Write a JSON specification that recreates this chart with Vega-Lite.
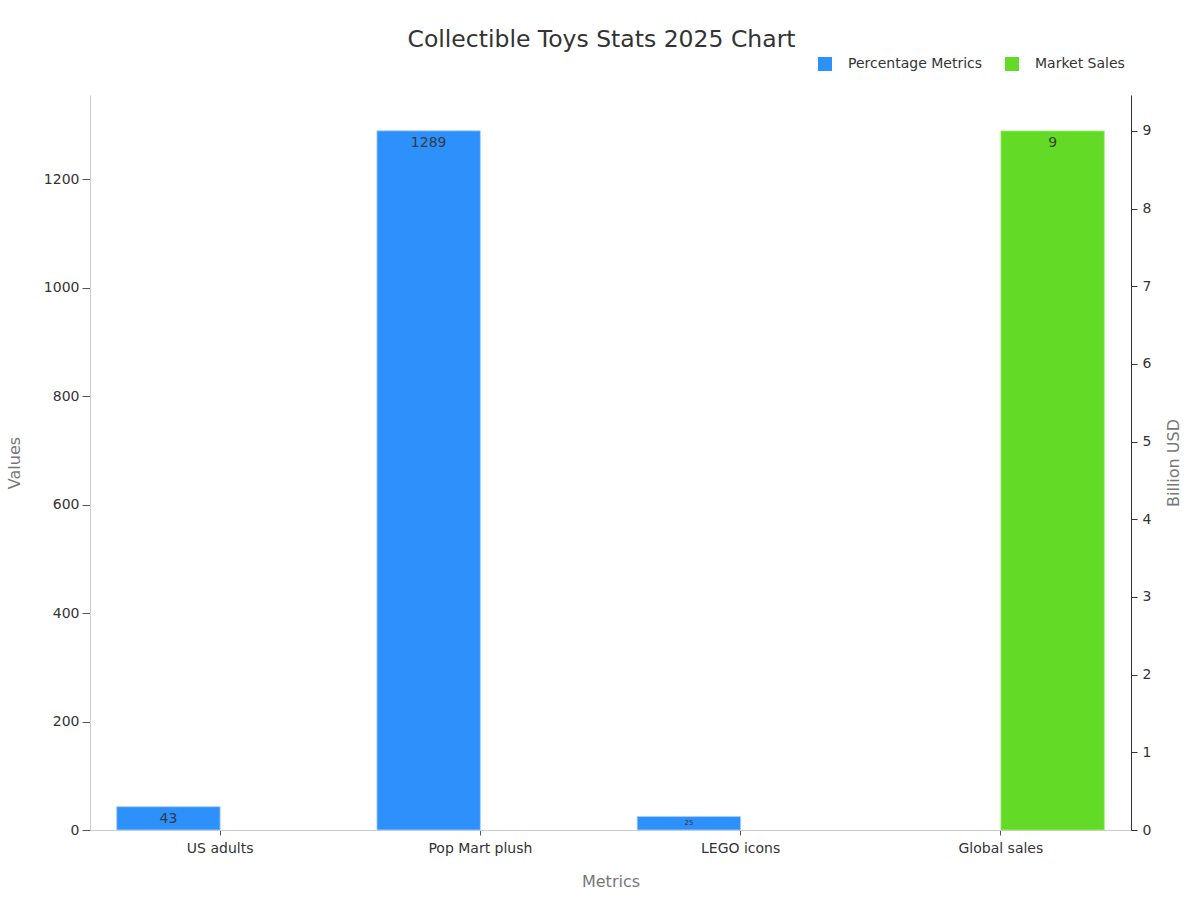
{
"$schema":"https://vega.github.io/schema/vega-lite/v6.json",
"width":1041,"height":735,
"autosize":{"type":"none"},
"padding":{"left":90,"top":95,"right":69,"bottom":70},
"background":"white",
"title":{"text":"Collectible Toys Stats 2025 Chart","anchor":"middle","frame":"group","fontSize":23.5,"fontWeight":"normal","font":"DejaVu Sans","color":"#333333","dx":-9,"offset":6},
"config":{"font":"DejaVu Sans","view":{"stroke":null}},
"data":{"values":[
{"metric":"US adults","series":"Percentage Metrics","value":43},
{"metric":"Pop Mart plush","series":"Percentage Metrics","value":1289},
{"metric":"LEGO icons","series":"Percentage Metrics","value":25},
{"metric":"Global sales","series":"Market Sales","value":9}
]},
"encoding":{
"x":{"field":"metric","type":"nominal","sort":["US adults","Pop Mart plush","LEGO icons","Global sales"],
"scale":{"paddingInner":0.205,"paddingOuter":0.1025},
"axis":{"title":"Metrics","titleFontSize":16,"titleFontWeight":"normal","titleColor":"#777777","titlePadding":18,"labelAngle":0,"labelFontSize":14,"labelColor":"#333333","labelPadding":6,"domainColor":"#cccccc","tickColor":"#555555","tickSize":5}},
"xOffset":{"field":"series","type":"nominal","sort":["Percentage Metrics","Market Sales"],"scale":{"domain":["Percentage Metrics","Market Sales"]}}
},
"layer":[
{"transform":[{"filter":"datum.series === 'Percentage Metrics'"}],
"encoding":{"y":{"field":"value","type":"quantitative","scale":{"domain":[0,1355],"nice":false,"zero":true},
"axis":{"orient":"left","title":"Values","format":"d","titleFontSize":16,"titleFontWeight":"normal","titleColor":"#777777","titlePadding":21,"labelFontSize":14,"labelColor":"#333333","labelPadding":3,"values":[0,200,400,600,800,1000,1200],"grid":false,"domainColor":"#cccccc","tickColor":"#555555","tickSize":8}}},
"layer":[
{"mark":{"type":"bar","stroke":"#a9d3fb","strokeWidth":0.8},
"encoding":{"color":{"field":"series","type":"nominal","scale":{"domain":["Percentage Metrics","Market Sales"],"range":["#2e90fa","#63da25"]},
"legend":{"title":null,"orient":"none","direction":"horizontal","legendX":728,"legendY":-38,"symbolType":"square","symbolSize":196,"symbolStrokeWidth":0,"labelFontSize":14,"labelColor":"#333333","columnPadding":22,"labelOffset":16,"padding":0}}}},
{"transform":[{"filter":"datum.metric !== 'LEGO icons'"}],"mark":{"type":"text","baseline":"middle","dy":12,"fontSize":14,"color":"#333333","opacity":0.9},"encoding":{"text":{"field":"value","type":"quantitative","format":"d"}}},
{"transform":[{"filter":"datum.metric === 'LEGO icons'"}],"mark":{"type":"text","baseline":"middle","dy":7,"fontSize":7,"color":"#333333"},"encoding":{"text":{"field":"value","type":"quantitative","format":"d"}}}
]},
{"transform":[{"filter":"datum.series === 'Market Sales'"}],
"encoding":{"y":{"field":"value","type":"quantitative","scale":{"domain":[0,9.463],"nice":false,"zero":true},
"axis":{"orient":"right","title":"Billion USD","titleAngle":-90,"titleFontSize":16,"titleFontWeight":"normal","titleColor":"#777777","titlePadding":31,"labelFontSize":14,"labelColor":"#333333","labelPadding":5,"values":[0,1,2,3,4,5,6,7,8,9],"format":"d","grid":false,"domainColor":"#333333","tickColor":"#333333","tickSize":6}}},
"layer":[
{"mark":{"type":"bar","stroke":"#a6ec80","strokeWidth":0.8},
"encoding":{"color":{"field":"series","type":"nominal"}}},
{"mark":{"type":"text","baseline":"middle","dy":12,"fontSize":14,"color":"#333333","opacity":0.9},"encoding":{"text":{"field":"value","type":"quantitative","format":"d"}}}
]}
],
"resolve":{"scale":{"y":"independent"}}
}
